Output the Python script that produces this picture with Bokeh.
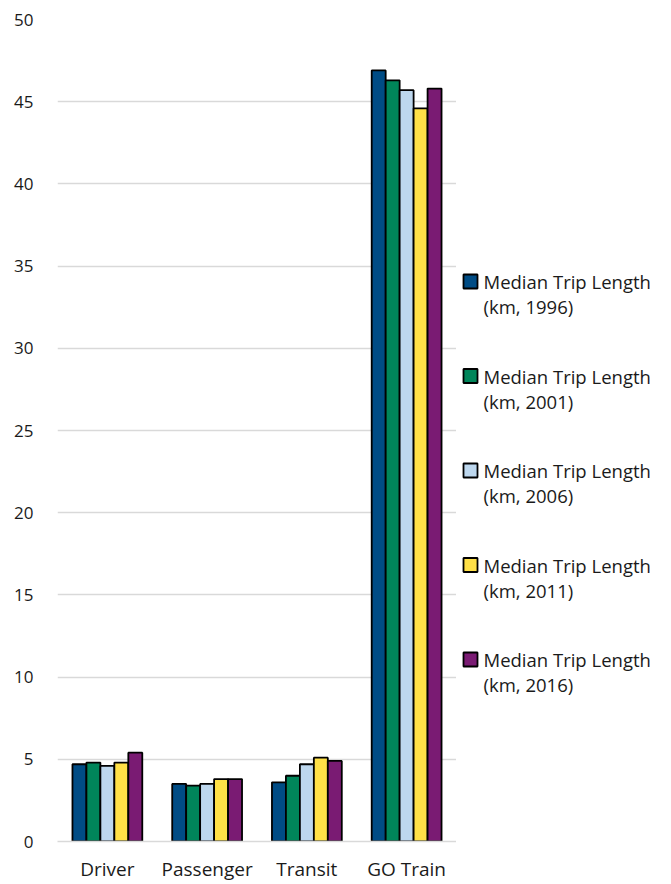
from bokeh.plotting import figure
from bokeh.layouts import row
from bokeh.models import ColumnDataSource, FactorRange, Range1d
from bokeh.transform import dodge
from bokeh.core.properties import value
from bokeh.embed import file_html
from bokeh.resources import INLINE

# Median trip length by mode (km)
modes = ["Driver", "Passenger", "Transit", "GO Train"]
years = ["1996", "2001", "2006", "2011", "2016"]
km_1996 = [4.7, 3.5, 3.6, 46.9]
km_2001 = [4.8, 3.4, 4.0, 46.3]
km_2006 = [4.6, 3.5, 4.7, 45.7]
km_2011 = [4.8, 3.8, 5.1, 44.6]
km_2016 = [5.4, 3.8, 4.9, 45.8]
series = [km_1996, km_2001, km_2006, km_2011, km_2016]
colors = ["#004C85", "#00855A", "#BDD7EE", "#FFE047", "#7A1B73"]
y_ticks = [0, 5, 10, 15, 20, 25, 30, 35, 40, 45, 50]

FONT = "Open Sans"
TOP, BOTTOM = 19, 43

data = {"mode": modes}
for yr, vals in zip(years, series):
    data["y" + yr] = vals
src = ColumnDataSource(data)

p = figure(x_range=FactorRange(*modes, range_padding=0), y_range=Range1d(0, 50),
           width=456, height=884, output_backend="svg", toolbar_location=None,
           min_border_left=57, min_border_right=0, min_border_top=TOP,
           min_border_bottom=BOTTOM)
p.outline_line_color = None
p.background_fill_color = "white"
p.border_fill_color = "white"

bar_w = 0.14
for i, (yr, c) in enumerate(zip(years, colors)):
    off = (i - 2) * bar_w
    p.vbar(x=dodge("mode", off, range=p.x_range), top="y" + yr, width=bar_w,
           source=src, fill_color=c, line_color="black", line_width=1.8)

p.yaxis.ticker = y_ticks
p.yaxis.axis_line_color = None
p.yaxis.major_tick_line_color = None
p.yaxis.minor_tick_line_color = None
p.yaxis.major_label_text_font = FONT
p.yaxis.major_label_text_font_size = "17px"
p.yaxis.major_label_text_color = "#1a1a1a"
p.yaxis.major_label_standoff = 18

p.xaxis.axis_line_color = "#D9D9D9"
p.xaxis.axis_line_width = 1.5
p.xaxis.major_tick_line_color = None
p.xaxis.minor_tick_line_color = None
p.xaxis.major_label_text_font = FONT
p.xaxis.major_label_text_font_size = "19px"
p.xaxis.major_label_text_color = "#1a1a1a"
p.xaxis.major_label_standoff = 8

p.xgrid.grid_line_color = None
p.ygrid.grid_line_color = "#D9D9D9"
p.ygrid.grid_line_width = 1.5

# Legend panel; its frame lines up with the chart frame, so the y range
# is given in page pixels between the frame's top and bottom edges
lg = figure(width=215, height=884, x_range=Range1d(0, 215),
            y_range=Range1d(884 - BOTTOM, TOP),
            output_backend="svg", toolbar_location=None,
            min_border_left=0, min_border_right=0,
            min_border_top=TOP, min_border_bottom=BOTTOM)
lg.axis.visible = False
lg.grid.visible = False
lg.outline_line_color = None

entry_y = [281 + 94.5 * i for i in range(len(years))]
lg.scatter(x=[14] * len(years), y=entry_y, marker="square", size=14,
           fill_color=colors, line_color="black", line_width=1.8)
lg.text(x=[27] * len(years), y=entry_y, text=["Median Trip Length"] * len(years),
        text_font=value(FONT), text_font_size="18.5px", text_baseline="middle",
        text_color="#1a1a1a")
lg.text(x=[27] * len(years), y=[v + 25 for v in entry_y],
        text=["(km, %s)" % yr for yr in years],
        text_font=value(FONT), text_font_size="18.5px", text_baseline="middle",
        text_color="#1a1a1a")

layout = row(p, lg, spacing=0)
open("out.html", "w").write(file_html(layout, INLINE))
